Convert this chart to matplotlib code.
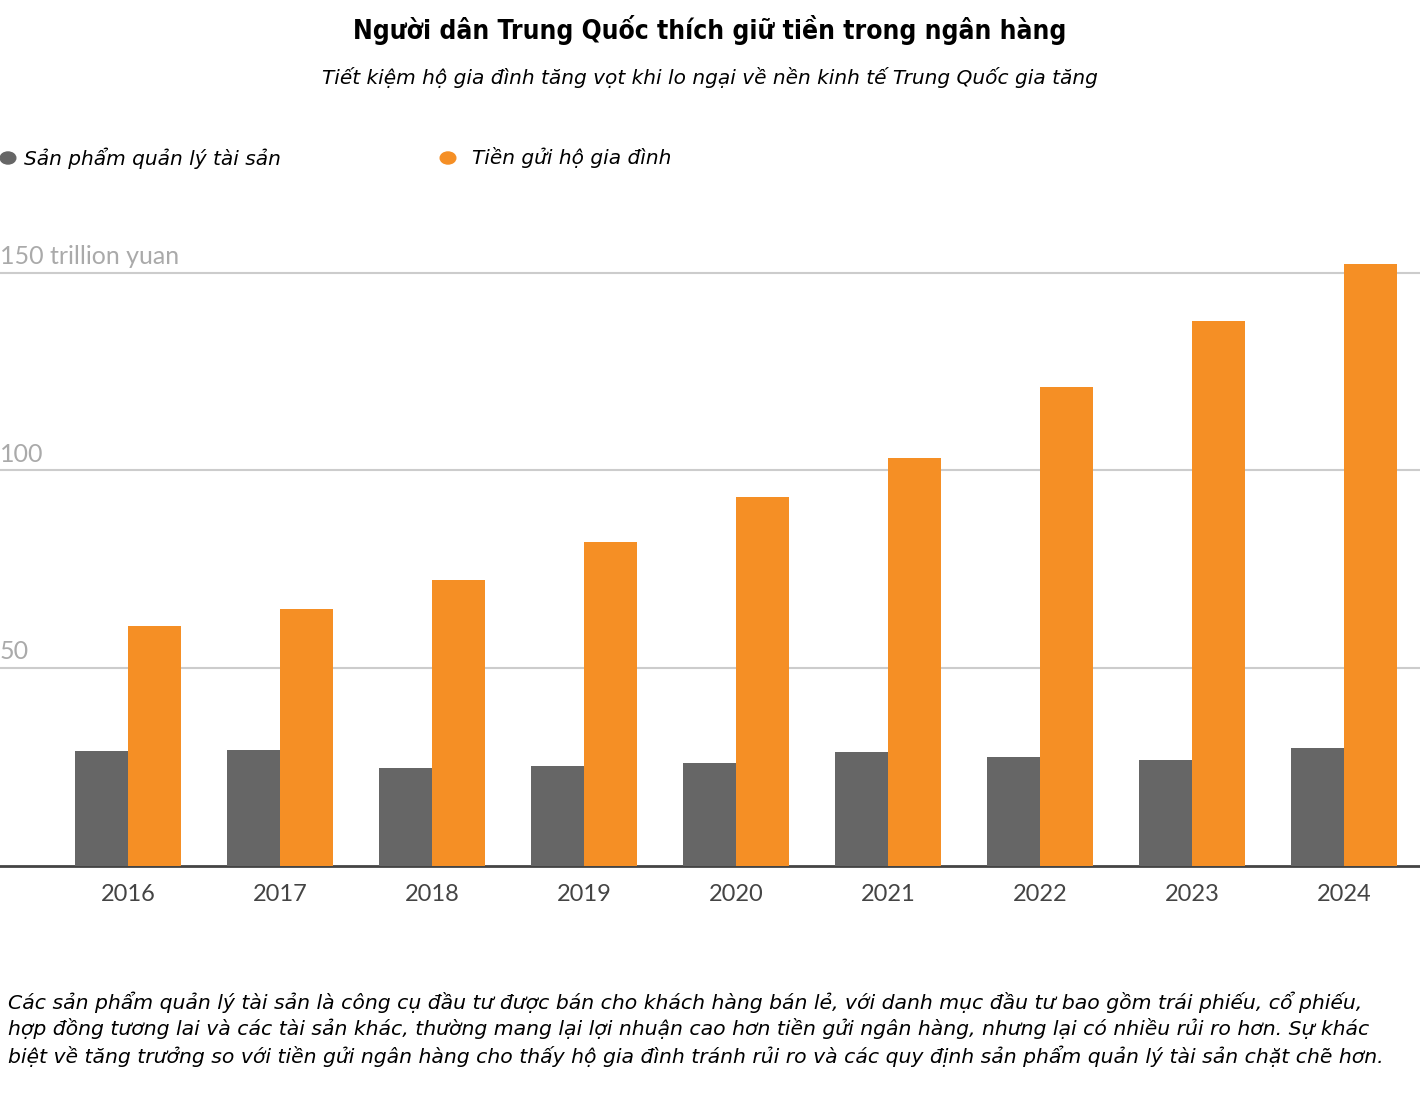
import numpy as np
import matplotlib.pyplot as plt

# du lieu
nam = ["2016", "2017", "2018", "2019", "2020", "2021", "2022", "2023", "2024"]
san_pham_qlts = [29.1, 29.3, 24.8, 25.3, 26.0, 28.8, 27.6, 26.8, 29.8]
tien_gui_hgd = [60.7, 65.0, 72.3, 81.9, 93.3, 103.2, 121.1, 137.8, 152.2]
muc_y = [50, 100, 150]
nhan_y = ["50", "100", "150 trillion yuan"]

XAM = "#666666"
CAM = "#f58f25"

fig = plt.figure(figsize=(14.2, 10.96), dpi=100)
ax = fig.add_axes([0, 0.2099, 1, 0.562])

x = np.arange(len(nam))
w = 0.349
ax.bar(x - w / 2, san_pham_qlts, width=w, color=XAM, zorder=3)
ax.bar(x + w / 2, tien_gui_hgd, width=w, color=CAM, zorder=3)

ax.set_xlim(-0.842, 8.5)
ax.set_ylim(0, 155.75)

# luoi ngang va nhan truc y
for v, t in zip(muc_y, nhan_y):
    ax.axhline(v, color="#cccccc", lw=1.5, zorder=1)
    ax.text(-0.842, v + 1.2, t, ha="left", va="bottom", fontsize=18,
            color="#aaaaaa", family="Lato")

for s in ["top", "right", "left"]:
    ax.spines[s].set_visible(False)
ax.spines["bottom"].set_color("#444444")
ax.spines["bottom"].set_linewidth(2)
ax.set_yticks([])
ax.set_xticks(x)
ax.set_xticklabels(nam, fontsize=17, color="#444444", family="Lato")
ax.tick_params(axis="x", length=0, pad=13)

# tieu de
fig.text(0.5, 1 - 30 / 1096, "Người dân Trung Quốc thích giữ tiền trong ngân hàng",
         ha="center", va="center", fontsize=19, fontweight="bold",
         family="DejaVu Sans", fontstretch="condensed")
fig.text(0.5, 1 - 78 / 1096, "Tiết kiệm hộ gia đình tăng vọt khi lo ngại về nền kinh tế Trung Quốc gia tăng",
         ha="center", va="center", fontsize=14.5, style="italic", family="DejaVu Sans")

# chu giai
fig.add_artist(plt.Circle((8 / 1420, 1 - 158 / 1096), 0.0055, color=XAM,
                          transform=fig.transFigure))
fig.text(24 / 1420, 1 - 158 / 1096, "Sản phẩm quản lý tài sản", ha="left", va="center",
         fontsize=14.5, style="italic")
fig.add_artist(plt.Circle((448 / 1420, 1 - 158 / 1096), 0.0055, color=CAM,
                          transform=fig.transFigure))
fig.text(472 / 1420, 1 - 158 / 1096, "Tiền gửi hộ gia đình", ha="left", va="center",
         fontsize=14.5, style="italic")

# ghi chu cuoi
ghi_chu = ("Các sản phẩm quản lý tài sản là công cụ đầu tư được bán cho khách hàng bán lẻ, với danh mục đầu tư bao gồm trái phiếu, cổ phiếu,\n"
           "hợp đồng tương lai và các tài sản khác, thường mang lại lợi nhuận cao hơn tiền gửi ngân hàng, nhưng lại có nhiều rủi ro hơn. Sự khác\n"
           "biệt về tăng trưởng so với tiền gửi ngân hàng cho thấy hộ gia đình tránh rủi ro và các quy định sản phẩm quản lý tài sản chặt chẽ hơn.")
fig.text(8 / 1420, 1 - 1029 / 1096, ghi_chu, ha="left", va="center", fontsize=14.7,
         style="italic", linespacing=1.33)

fig.savefig("out.png", dpi=100)
